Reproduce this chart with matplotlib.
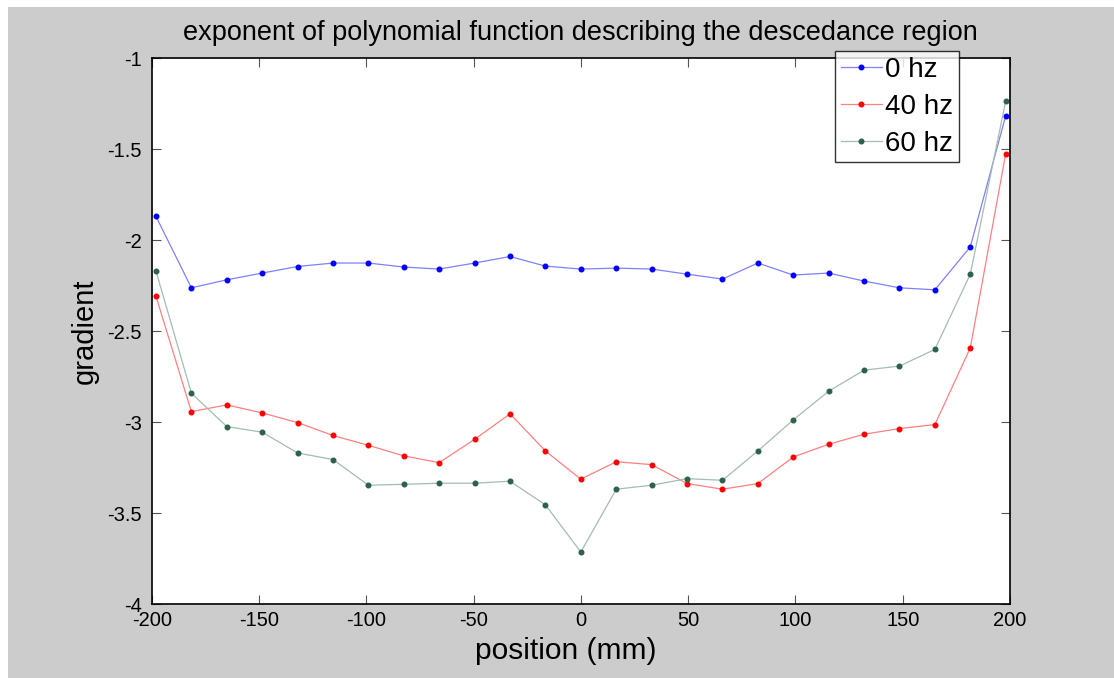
import matplotlib

matplotlib.use("Agg")
import matplotlib.pyplot as plt
from matplotlib.patches import Rectangle

# position along the sample (mm)
position = [-198, -181.5, -165, -148.5, -132, -115.5, -99, -82.5, -66, -49.5,
            -33, -16.5, 0, 16.5, 33, 49.5, 66, 82.5, 99, 115.5, 132, 148.5,
            165, 181.5, 198]

grad_0hz = [-1.870, -2.262, -2.218, -2.181, -2.145, -2.126, -2.126, -2.148,
            -2.159, -2.126, -2.090, -2.143, -2.159, -2.154, -2.159, -2.187,
            -2.214, -2.126, -2.192, -2.181, -2.225, -2.262, -2.273, -2.037,
            -1.317]
grad_40hz = [-2.309, -2.942, -2.905, -2.949, -3.002, -3.073, -3.127, -3.185,
             -3.222, -3.094, -2.954, -3.158, -3.313, -3.217, -3.233, -3.337,
             -3.368, -3.337, -3.191, -3.121, -3.066, -3.035, -3.013, -2.592,
             -1.526]
grad_60hz = [-2.170, -2.841, -3.024, -3.055, -3.169, -3.205, -3.346, -3.341,
             -3.335, -3.335, -3.324, -3.454, -3.713, -3.368, -3.346, -3.310,
             -3.319, -3.158, -2.987, -2.830, -2.714, -2.692, -2.600, -2.187,
             -1.236]

labels = ["0 hz", "40 hz", "60 hz"]
xticks = [-200, -150, -100, -50, 0, 50, 100, 150, 200]
yticks = [-4, -3.5, -3, -2.5, -2, -1.5, -1]

plt.rcParams.update({
    "font.family": ["Liberation Sans", "DejaVu Sans"],
    "font.size": 14.5,
    "axes.unicode_minus": False,
})

W, H = 1114, 678
fig = plt.figure(figsize=(W / 100, H / 100), dpi=100, facecolor="white")
# MATLAB grey figure background (thin white strip left/top as in the capture)
fig.add_artist(Rectangle((8 / W, 0), 1 - 8 / W, 1 - 7 / H,
                         transform=fig.transFigure, facecolor="#cccccc",
                         edgecolor="none", zorder=-10))

ax = fig.add_axes([151.7 / W, 1 - 604.3 / H, (1010 - 151.7) / W, (604.3 - 58) / H])
ax.set_facecolor("white")

styles = [
    ("#8080ff", "#0000ff"),
    ("#ff8080", "#ff0000"),
    ("#a3bdb1", "#2d6248"),
]
for ys, lab, (lc, mc) in zip([grad_0hz, grad_40hz, grad_60hz], labels, styles):
    ax.plot(position, ys, color=lc, lw=0.9, marker="o", ms=3.3,
            markerfacecolor=mc, markeredgecolor=mc, label=lab)

ax.set_xlim(-200, 200)
ax.set_ylim(-4, -1)
ax.set_xticks(xticks)
ax.set_yticks(yticks)
ax.set_yticklabels(["-4", "-3.5", "-3", "-2.5", "-2", "-1.5", "-1"])
ax.tick_params(direction="in", length=6.5, width=0.8, color="#555555",
               top=True, right=True, labelsize=14.5)
ax.tick_params(axis="x", pad=5)
ax.tick_params(axis="y", pad=7)
for s in ax.spines.values():
    s.set_linewidth(1.2)
    s.set_color("black")

ax.set_xlabel("position (mm)", fontsize=21.5)
ax.xaxis.set_label_coords((566 - 151.7) / (1010 - 151.7), -0.06, transform=ax.transAxes)
ax.xaxis.label.set_va("top")
ax.set_ylabel("gradient", fontsize=21, labelpad=6)
ax.set_title("exponent of polynomial function describing the descedance region",
             fontsize=19.5, pad=13)

leg = ax.legend(loc="upper left", bbox_to_anchor=(835 / W, 1 - 51 / H),
                bbox_transform=fig.transFigure, fontsize=20, frameon=True,
                fancybox=False, borderaxespad=0, handlelength=1.5,
                handletextpad=0.1, borderpad=0.2, labelspacing=0.4)
leg.get_frame().set_edgecolor("black")
leg.get_frame().set_linewidth(1.0)

fig.savefig("out.png", dpi=100, facecolor=fig.get_facecolor())
